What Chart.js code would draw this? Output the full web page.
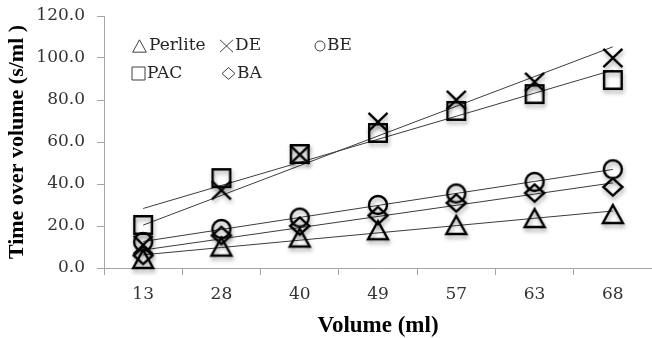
<!DOCTYPE html>
<html>
<head>
<meta charset="utf-8">
<script src="https://cdn.jsdelivr.net/npm/chart.js@4.4.1/dist/chart.umd.min.js"></script>
<style>
  html, body { margin: 0; padding: 0; background: #fff; }
  #wrap { width: 652px; height: 338px; }
</style>
</head>
<body>
<div id="wrap"><canvas id="c" width="652" height="338"></canvas></div>
<script>
// volume categories (ml) and time over volume (s/ml) per filter aid
const volumes = ["13", "28", "40", "49", "57", "63", "68"];
const perlite = [4.3, 10.2, 14.5, 18, 20.5, 23.8, 25.7];
const de      = [11, 37, 54, 69.5, 80, 88.6, 100];
const be      = [12.4, 18.6, 24, 30, 35.5, 41, 47];
const pac     = [20.5, 42.8, 54.3, 64.3, 74.8, 82.8, 89.5];
const ba      = [6, 15.5, 20, 25, 31, 35.7, 38.6];
const yTicks  = [0, 20, 40, 60, 80, 100, 120];

const AXIS = "#a6a6a6";
const TICK_FONT = { family: "'DejaVu Serif', serif", size: 17 };
const TITLE_FONT = { family: "'Liberation Serif', serif", size: 22, weight: "bold", lineHeight: 1 };

// linear trendline over category index (like Excel on a line chart)
function trend(ys) {
  const n = ys.length;
  const mx = (n + 1) / 2;
  const my = ys.reduce((a, b) => a + b, 0) / n;
  let sxy = 0, sxx = 0;
  ys.forEach((y, i) => { sxy += (i + 1 - mx) * (y - my); sxx += (i + 1 - mx) ** 2; });
  const k = sxy / sxx;
  return ys.map((_, i) => my + k * (i + 1 - mx));
}

// draws one marker shape centered at (cx, cy)
function shape(ctx, kind, cx, cy, s) {
  ctx.beginPath();
  if (kind === "tri") {
    ctx.moveTo(cx, cy - s * 0.95);
    ctx.lineTo(cx + s * 1.05, cy + s * 0.95);
    ctx.lineTo(cx - s * 1.05, cy + s * 0.95);
    ctx.closePath();
  } else if (kind === "x") {
    ctx.moveTo(cx - s, cy - s * 0.95); ctx.lineTo(cx + s, cy + s * 0.95);
    ctx.moveTo(cx + s, cy - s * 0.95); ctx.lineTo(cx - s, cy + s * 0.95);
  } else if (kind === "circle") {
    ctx.arc(cx, cy, s, 0, Math.PI * 2);
  } else if (kind === "square") {
    ctx.rect(cx - s, cy - s, 2 * s, 2 * s);
  } else if (kind === "diamond") {
    ctx.moveTo(cx, cy - s * 0.9); ctx.lineTo(cx + s, cy);
    ctx.lineTo(cx, cy + s * 0.9); ctx.lineTo(cx - s, cy);
    ctx.closePath();
  }
  ctx.stroke();
}

// marker image with the soft drop shadow of the original
function marker(kind, s) {
  const cv = document.createElement("canvas");
  cv.width = 36; cv.height = 36;
  const ctx = cv.getContext("2d");
  ctx.shadowColor = "rgba(0,0,0,0.35)";
  ctx.shadowBlur = 4;
  ctx.shadowOffsetX = 1;
  ctx.shadowOffsetY = 3;
  ctx.strokeStyle = "#000";
  ctx.lineWidth = 2.4;
  shape(ctx, kind, 18, 18, s);
  return cv;
}

const series = [
  { label: "Perlite", data: perlite, kind: "tri", size: 9.5 },
  { label: "DE", data: de, kind: "x", size: 9.5 },
  { label: "BE", data: be, kind: "circle", size: 9 },
  { label: "PAC", data: pac, kind: "square", size: 8.8 },
  { label: "BA", data: ba, kind: "diamond", size: 9.5 }
];

const datasets = series.map((s) => ({
  label: s.label,
  data: s.data,
  showLine: false,
  pointStyle: marker(s.kind, s.size),
  pointRadius: 10,
  clip: false
})).concat(series.map((s) => ({
  label: s.label + " trend",
  data: trend(s.data),
  borderColor: "#3c3c3c",
  borderWidth: 1,
  pointRadius: 0,
  tension: 0,
  fill: false
})));

// legend sits inside the plot in two rows
const legendPos = [
  { kind: "tri", mx: 139.5, my: 46, tx: 149, ty: 46, s: 6.5, text: "Perlite" },
  { kind: "x", mx: 226.5, my: 46, tx: 235, ty: 46, s: 6.5, text: "DE" },
  { kind: "circle", mx: 320, my: 46, tx: 327, ty: 46, s: 5, text: "BE" },
  { kind: "square", mx: 138.5, my: 73.5, tx: 147, ty: 73.5, s: 6.5, text: "PAC" },
  { kind: "diamond", mx: 228.5, my: 73.5, tx: 237, ty: 73.5, s: 6.5, text: "BA" }
];

const legendPlugin = {
  id: "inlineLegend",
  afterDraw(chart) {
    const ctx = chart.ctx;
    ctx.save();
    ctx.strokeStyle = "#404040";
    ctx.lineWidth = 1;
    ctx.fillStyle = "#262626";
    ctx.font = "17px 'DejaVu Serif', serif";
    ctx.textBaseline = "middle";
    legendPos.forEach((l) => {
      shape(ctx, l.kind, l.mx, l.my, l.s);
      ctx.fillText(l.text, l.tx, l.ty);
    });
    ctx.restore();
  }
};

new Chart(document.getElementById("c"), {
  type: "line",
  data: { labels: volumes, datasets: datasets },
  plugins: [legendPlugin],
  options: {
    responsive: false,
    animation: false,
    layout: { autoPadding: false, padding: { top: 16, right: 0, left: 0, bottom: 0 } },
    plugins: { legend: { display: false }, tooltip: { enabled: false } },
    scales: {
      x: {
        type: "category",
        offset: true,
        grid: { offset: true, drawOnChartArea: false, tickLength: 7, color: AXIS },
        border: { color: AXIS, width: 1 },
        ticks: { font: TICK_FONT, color: "#333", padding: 9, maxRotation: 0 },
        title: { display: true, text: "Volume (ml)", font: Object.assign({}, TITLE_FONT, { size: 23 }), color: "#000", padding: 0 },
        afterFit: (s) => { s.height = 70; s.paddingLeft = 0; s.paddingRight = 0; }
      },
      y: {
        min: 0,
        max: 120,
        afterBuildTicks: (s) => { s.ticks = yTicks.map((v) => ({ value: v })); },
        grid: { drawOnChartArea: false, tickLength: 7, color: AXIS },
        border: { color: AXIS, width: 1 },
        ticks: { font: TICK_FONT, color: "#333", padding: 12, callback: (v) => Number(v).toFixed(1) },
        title: { display: true, text: "Time over volume (s/ml )", font: TITLE_FONT, color: "#000", padding: { top: 6, bottom: 0 } },
        afterFit: (s) => { s.width = 104; s.paddingTop = 0; s.paddingBottom = 0; }
      }
    }
  }
});
</script>
</body>
</html>
